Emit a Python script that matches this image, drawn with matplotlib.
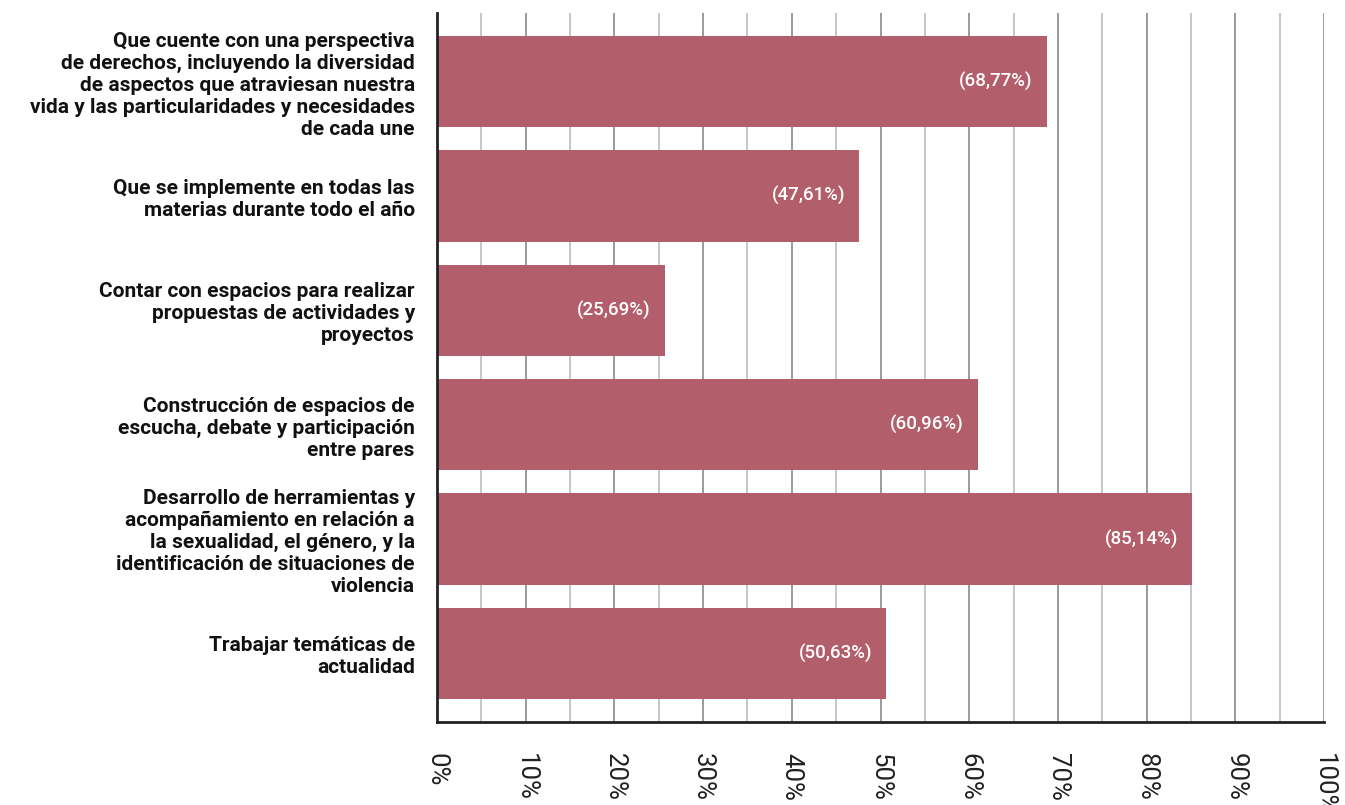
import numpy as np
import matplotlib.pyplot as plt

# datos
categorias = [
    "Que cuente con una perspectiva\nde derechos, incluyendo la diversidad\nde aspectos que atraviesan nuestra\nvida y las particularidades y necesidades\nde cada une",
    "Que se implemente en todas las\nmaterias durante todo el año",
    "Contar con espacios para realizar\npropuestas de actividades y\nproyectos",
    "Construcción de espacios de\nescucha, debate y participación\nentre pares",
    "Desarrollo de herramientas y\nacompañamiento en relación a\nla sexualidad, el género, y la\nidentificación de situaciones de\nviolencia",
    "Trabajar temáticas de\nactualidad",
]
valores = [68.77, 47.61, 25.69, 60.96, 85.14, 50.63]
etiquetas = ["(68,77%)", "(47,61%)", "(25,69%)", "(60,96%)", "(85,14%)", "(50,63%)"]
ticks = [0, 10, 20, 30, 40, 50, 60, 70, 80, 90, 100]

COLOR = "#b35f6b"

plt.rcParams['font.family'] = ['Roboto', 'DejaVu Sans']

fig = plt.figure(figsize=(13.45, 8.05), dpi=100)
ax = fig.add_axes([0.3249, 0.1031, 0.6595, 0.8808])

y = np.arange(len(valores))
ax.barh(y, valores, height=0.8, color=COLOR, zorder=3)

# lineas de grilla cada 5%
for x in range(5, 101, 5):
    c = '#808080' if x % 10 == 0 else '#b8b8b8'
    ax.axvline(x, color=c, lw=1.1, zorder=1)

for yi, v, t in zip(y, valores, etiquetas):
    ax.text(v - 1.6, yi, t, color='white', ha='right', va='center',
            fontsize=13.5, fontweight='medium', zorder=4)

ax.set_xlim(0, 100)
ax.set_ylim(len(valores) - 0.4, -0.6)
ax.set_xticks(ticks)
ax.set_xticklabels([f"{t}%" for t in ticks], rotation=270, fontsize=18.5,
                   fontweight='normal', color='#222222')
ax.set_yticks(y)
ax.set_yticklabels(categorias, fontsize=15, fontweight='bold', color='#111111',
                   linespacing=1.2)
ax.tick_params(axis='y', length=0, pad=16)
ax.tick_params(axis='x', length=0, pad=22)

for s in ['top', 'right']:
    ax.spines[s].set_visible(False)
for s in ['left', 'bottom']:
    ax.spines[s].set_linewidth(2)
    ax.spines[s].set_color('#222222')
    ax.spines[s].set_zorder(5)

fig.savefig('out.png', dpi=100)
